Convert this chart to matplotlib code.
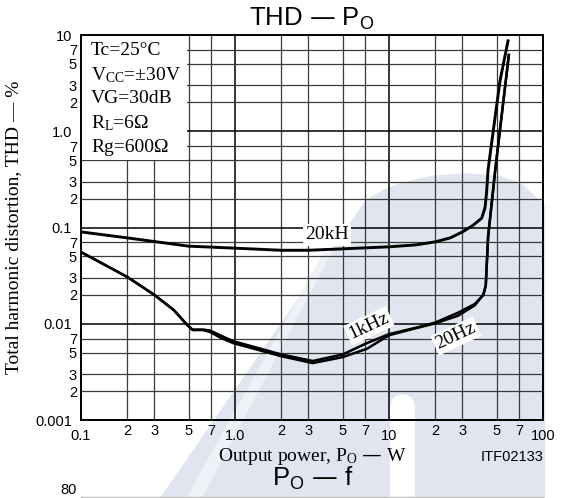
import matplotlib
matplotlib.use("Agg")
import matplotlib.pyplot as plt
import matplotlib.patches as mpatches
from matplotlib.ticker import FixedLocator, FixedFormatter

plt.rcParams['mathtext.default'] = 'regular'

SANS = ['Liberation Sans', 'DejaVu Sans']
SERIF = ['Liberation Serif', 'DejaVu Serif']

# ---------------- data ----------------
po_20k = [0.1, 0.2, 0.5, 1, 2, 3, 5, 10, 15, 20, 25, 30, 35, 40, 42, 43, 44, 52.5, 59.3]
thd_20k = [0.090, 0.078, 0.064, 0.061, 0.058, 0.058, 0.060, 0.063, 0.066, 0.071,
           0.078, 0.090, 0.105, 0.125, 0.16, 0.23, 0.40, 3.3, 8.7]

po_low = [0.1, 0.2, 0.3, 0.4, 0.49, 0.53, 0.62, 0.69, 0.8, 0.97, 2.0, 3.2, 5.0,
          7.2, 10, 15, 20, 28, 36, 41, 42.5, 44, 49, 60]
thd_1k = [0.0556, 0.0306, 0.0199, 0.0139, 0.0097, 0.0087, 0.0087, 0.0085, 0.0076,
          0.0066, 0.0048, 0.0041, 0.0048, 0.0063, 0.0078, 0.0091, 0.0103, 0.0130,
          0.0160, 0.020, 0.025, 0.08, 0.40, 6.2]
thd_20 = [0.0556, 0.0306, 0.0199, 0.0139, 0.0097, 0.0086, 0.0086, 0.0082, 0.0072,
          0.0063, 0.0046, 0.0039, 0.0045, 0.0055, 0.0076, 0.0090, 0.0101, 0.0121,
          0.0155, 0.020, 0.025, 0.08, 0.40, 6.2]

x_major = [0.1, 1, 10, 100]
x_major_labels = ['0.1', '1.0', '10', '100']
x_minor = [0.2, 0.3, 0.5, 0.7, 2, 3, 5, 7, 20, 30, 50, 70]
x_minor_labels = ['2', '3', '5', '7'] * 3

y_major = [0.001, 0.01, 0.1, 1, 10]
y_major_labels = ['0.001', '0.01', '0.1', '1.0', '10']
y_minor = [0.002, 0.003, 0.005, 0.007, 0.02, 0.03, 0.05, 0.07,
           0.2, 0.3, 0.5, 0.7, 2, 3, 5, 7]
y_minor_labels = ['2', '3', '5', '7'] * 4

conditions = ['Tc=25°C', 'V$_{CC}$=±30V', 'VG=30dB', 'R$_L$=6Ω', 'Rg=600Ω']

# ---------------- figure ----------------
W, H = 566, 498
fig = plt.figure(figsize=(W / 100, H / 100), dpi=100)

# background (watermark) in pixel coordinates
bg = fig.add_axes([0, 0, 1, 1], zorder=0)
bg.set_xlim(0, W)
bg.set_ylim(H, 0)
bg.axis('off')
wm = '#e0e5ef'
bg.add_patch(mpatches.Polygon([(160, 498), (366, 200), (383, 190), (400, 183),
                               (430, 176), (466, 173), (500, 176), (522, 184),
                               (545, 205), (545, 498)],
                              closed=True, fc=wm, ec='none'))
bg.add_patch(mpatches.Polygon([(186, 498), (202, 498), (332, 252), (324, 252)],
                              closed=True, fc='#eef1f6', ec='none'))
bg.add_patch(mpatches.Rectangle((390, 407), 25, 91, fc='white', ec='none'))
bg.add_patch(mpatches.Circle((402.5, 407), 12.5, fc='white', ec='none'))
# next chart's top edge
bg.plot([81, 543], [497, 497], color='#c0c0c0', lw=1)

# main axes
L, R, T, B = 81, 543, 35, 420
ax = fig.add_axes([L / W, 1 - B / H, (R - L) / W, (B - T) / H], zorder=1)
ax.set_facecolor('none')
ax.set_xscale('log')
ax.set_yscale('log')
ax.set_xlim(0.1, 100)
ax.set_ylim(0.001, 10)

ax.xaxis.set_major_locator(FixedLocator(x_major))
ax.xaxis.set_major_formatter(FixedFormatter(x_major_labels))
ax.xaxis.set_minor_locator(FixedLocator(x_minor))
ax.xaxis.set_minor_formatter(FixedFormatter(x_minor_labels))
ax.yaxis.set_major_locator(FixedLocator(y_major))
ax.yaxis.set_major_formatter(FixedFormatter(y_major_labels))
ax.yaxis.set_minor_locator(FixedLocator(y_minor))
ax.yaxis.set_minor_formatter(FixedFormatter(y_minor_labels))

ax.tick_params(which='both', length=0, labelsize=10.5)
ax.tick_params(axis='x', which='major', pad=6.5)
ax.tick_params(axis='x', which='minor', pad=2.9)
ax.tick_params(axis='y', which='major', pad=6.5)
ax.tick_params(axis='y', which='minor', pad=2.9)
for lab in ax.get_xticklabels(which='both') + ax.get_yticklabels(which='both'):
    lab.set_family(SANS)

ax.grid(which='major', color='black', lw=1.1, zorder=1)
ax.grid(which='minor', color='#3a3a3a', lw=0.9, zorder=1)
ax.set_axisbelow(True)
for s in ax.spines.values():
    s.set_linewidth(1.4)
    s.set_zorder(5)

# conditions box
ax.add_patch(mpatches.Rectangle((0, (B - 160) / (B - T)), (187 - L) / (R - L),
                                1 - (B - 160) / (B - T), transform=ax.transAxes,
                                fc='white', ec='none', zorder=2))
for txt, yc in zip(conditions, [50, 75, 98, 123, 147]):
    ax.text((91 - L) / (R - L), (B - yc) / (B - T), txt, transform=ax.transAxes,
            family=SERIF, fontsize=14, va='center', ha='left', zorder=3)

# curves
ax.plot(po_20k, thd_20k, color='black', lw=2.1, zorder=4)
ax.plot(po_low, thd_1k, color='black', lw=1.8, zorder=4)
ax.plot(po_low, thd_20, color='black', lw=1.8, zorder=4)

box = dict(fc='white', ec='none', pad=1.5)
ax.text(3.96, 0.0836, '20kH', family=SERIF, fontsize=14, ha='center', va='center',
        bbox=box, zorder=4.5)
ax.text(7.41, 0.0095, '1kHz', family=SERIF, fontsize=14, ha='center', va='center',
        rotation=25, rotation_mode='anchor', bbox=box, zorder=4.5)
ax.text(27.2, 0.00746, '20Hz', family=SERIF, fontsize=14, ha='center', va='center',
        rotation=25, rotation_mode='anchor', bbox=box, zorder=4.5)

ax.set_ylabel('Total harmonic distortion, THD — %', family=SERIF, fontsize=14)
ax.yaxis.set_label_coords((22 - L) / (R - L), 0.5)
ax.set_xlabel('Output power, P$_O$ — W', family=SERIF, fontsize=14)
ax.xaxis.set_label_coords(0.5, (B - 456) / (B - T))
ax.xaxis.label.set_va('center')

fig.text(R / W, 1 - 457 / H, 'ITF02133', family=SANS, fontsize=10.5,
         ha='right', va='center')
fig.text(312 / W, 1 - 26 / H, 'THD — P$_O$', family=SANS, fontsize=18.5,
         ha='center', va='baseline')
fig.text(313 / W, 1 - 486 / H, 'P$_O$ — f', family=SANS, fontsize=18.5,
         ha='center', va='baseline')
fig.text(77 / W, 1 / H, '80', family=SANS, fontsize=10.5, ha='right', va='bottom')

fig.savefig('out.png', dpi=100)
